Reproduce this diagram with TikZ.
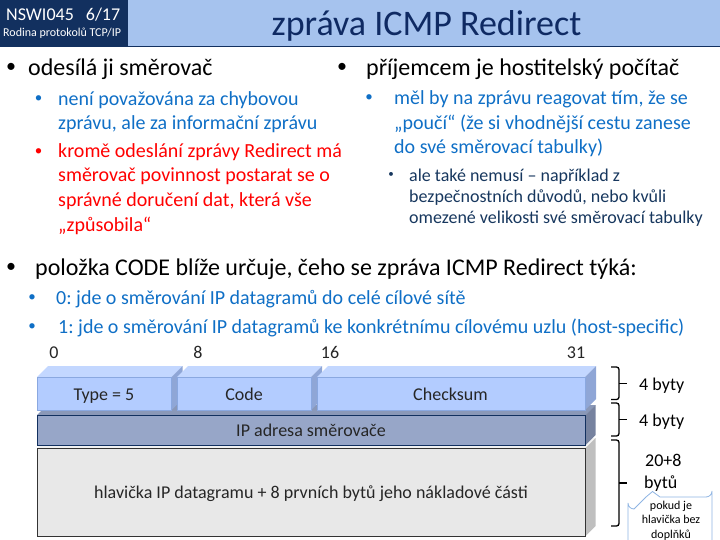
\documentclass[tikz,border=0pt]{standalone}
\usepackage{fontspec}
\setmainfont{Carlito}
\usetikzlibrary{calc}

\definecolor{navy}{HTML}{12305F}
\definecolor{barblue}{HTML}{A6C3EE}
\definecolor{textblue}{HTML}{0F6FC6}
\definecolor{titleblue}{HTML}{0F2A63}
\definecolor{subblue}{HTML}{17375E}
\definecolor{callblue}{HTML}{8EB4E3}
\definecolor{fieldfront}{HTML}{B3CCFF}
\definecolor{fieldtop}{HTML}{C3D7FF}
\definecolor{fieldside}{HTML}{8FA6D6}
\definecolor{fieldline}{HTML}{8AA8E0}
\definecolor{addrfront}{HTML}{97A6C8}
\definecolor{addrtop}{HTML}{8A98B8}
\definecolor{addrside}{HTML}{76829F}
\definecolor{hdrfront}{HTML}{E8E8E8}
\definecolor{hdrtop}{HTML}{F2F2F2}
\definecolor{hdrside}{HTML}{BFBFBF}

\tikzset{
	txt/.style={anchor=base west,inner sep=0pt,align=left},
	dotbig/.style={anchor=base,inner sep=0pt,font=\fontsize{20}{24}\selectfont},
	dotmid/.style={anchor=base,inner sep=0pt,font=\fontsize{15}{18}\selectfont},
	dotsmall/.style={anchor=base,inner sep=0pt,font=\fontsize{11}{13}\selectfont},
	big/.style={font=\fontsize{24}{29}\selectfont},
	mid/.style={font=\fontsize{20}{24.5}\selectfont},
	small/.style={font=\fontsize{18}{21.5}\selectfont},
	lab/.style={font=\fontsize{18}{21}\selectfont,text=black!85,inner sep=0pt,anchor=base},
	bracket/.style={draw=black,line width=1.3pt,rounded corners=2.5pt}
}

% one brick: left, top, right, bottom, depth, front, top, side, border
\newcommand{\brick}[9]{
	\fill[#7] (#1,#2) -- ({#1+#5},{#2-#5}) -- ({#3+#5},{#2-#5}) -- (#3,#2) -- cycle;
	\fill[#8] (#3,#2) -- ({#3+#5},{#2-#5}) -- ({#3+#5},{#4-#5}) -- (#3,#4) -- cycle;
	\fill[#6] (#1,#2) rectangle (#3,#4);
	\draw[#9,line width=0.8pt] (#1,#2) rectangle (#3,#4);
}

% square curly bracket between two named coordinates
\newcommand{\bracketfrom}[2]{
	\draw[bracket] (#1) -| ($(#1)!.5!(#2)+(8,0)$) |- (#2);
	\draw[bracket] ($(#1)!.5!(#2)+(8,0)$) -- ++(8,0);
}

\begin{document}
\frenchspacing
\begin{tikzpicture}[x=1pt,y=-1pt]
	\useasboundingbox (0,0) rectangle (720,540);
	\clip (0,0) rectangle (720,540);

	% Header
	\fill[barblue] (0,0) rectangle (720,46);
	\fill[navy] (0,0) rectangle (128,46);
	\draw[navy,line width=0.8pt] (0,46) -- (720,46);
	\node[txt,text=white,font=\fontsize{18}{21}\selectfont] (course) at (6,21) {NSWI045\hspace{12pt}6/17};
	\node[txt,text=white,font=\fontsize{12}{14}\selectfont] (family) at (3,37) {Rodina protokolů TCP/IP};
	\node[anchor=base,inner sep=0pt,text=titleblue,font=\fontsize{36}{40}\selectfont] (title) at (426.5,36) {zpráva ICMP Redirect};

	% Left column
	\node[dotbig] (d1) at (11,73) {•};
	\node[txt,big] (sender) at (28,76) {odesílá ji směrovač};
	\node[dotmid,text=textblue] (d2) at (38.5,103) {•};
	\node[txt,mid,text=textblue] (info) at (58,130) {není považována za chybovou\\zprávu, ale za informační zprávu};
	\node[dotmid,text=red] (d3) at (38.5,155.5) {•};
	\node[txt,mid,text=red] (duty) at (58,231) {kromě odeslání zprávy Redirect má\\směrovač povinnost postarat se o\\správné doručení dat, která vše\\„způsobila“};

	% Right column
	\node[dotbig] (d4) at (342,73) {•};
	\node[txt,big] (receiver) at (366,76) {příjemcem je hostitelský počítač};
	\node[dotmid,text=textblue] (d5) at (369,102) {•};
	\node[txt,mid,text=textblue] (learn) at (394,154) {měl by na zprávu reagovat tím, že se\\„poučí“ (že si vhodnější cestu zanese\\do své směrovací tabulky)};
	\node[dotsmall,text=subblue] (d6) at (391,177.5) {•};
	\node[txt,small,text=subblue] (notneed) at (409,224) {ale také nemusí – například z\\bezpečnostních důvodů, nebo kvůli\\omezené velikosti své směrovací tabulky};

	% Code field
	\node[dotbig] (d7) at (11,272) {•};
	\node[txt,big] (code) at (35,275) {položka CODE blíže určuje, čeho se zpráva ICMP Redirect týká:};
	\node[dotmid,text=textblue] (d8) at (32,301.5) {•};
	\node[txt,mid,text=textblue] (code0) at (56,304) {0: jde o směrování IP datagramů do celé cílové sítě};
	\node[dotmid,text=textblue] (d9) at (32,330) {•};
	\node[txt,mid,text=textblue] (code1) at (58,333) {1: jde o směrování IP datagramů ke konkrétnímu cílovému uzlu (host-specific)};

	% Bit numbers
	\node[lab] (b0) at (54,358) {0};
	\node[lab] (b8) at (198,358) {8};
	\node[lab] (b16) at (330,358) {16};
	\node[lab] (b31) at (576,358) {31};

	% Bricks, back to front
	\brick{37}{448}{585.5}{536}{10}{hdrfront}{hdrtop}{hdrside}{black!80}
	\brick{37}{415}{585.5}{445}{10}{addrfront}{addrtop}{addrside}{navy}
	\brick{37}{377}{171.5}{410}{11}{fieldfront}{fieldtop}{fieldside}{fieldline}
	\brick{177}{377}{311}{410}{11}{fieldfront}{fieldtop}{fieldside}{fieldline}
	\brick{317}{377}{585}{410}{11}{fieldfront}{fieldtop}{fieldside}{fieldline}
	\node[lab] (type) at (104,400) {Type = 5};
	\node[lab] (field) at (244,400) {Code};
	\node[lab] (sum) at (450.5,400) {Checksum};
	\node[lab] (gw) at (311,436) {IP adresa směrovače};
	\node[lab] (hdr) at (311,498) {hlavička IP datagramu + 8 prvních bytů jeho nákladové části};

	% Braces
	\coordinate (a1) at (611,367);
	\coordinate (a2) at (611,399.5);
	\coordinate (a3) at (611,403);
	\coordinate (a4) at (611,436);
	\coordinate (a5) at (611,440);
	\coordinate (a6) at (611,526);
	\bracketfrom{a1}{a2}
	\bracketfrom{a3}{a4}
	\bracketfrom{a5}{a6}
	\node[txt,small] (size1) at (639,390) {4 byty};
	\node[txt,small] (size2) at (639,426) {4 byty};
	\node[txt,small] (size3) at (644,488) {\hspace{1pt}20+8\\bytů};

	% Callout
	\draw[callblue,line width=0.8pt,fill=white] (628,550) -- (628,503) arc (180:90:6) -- (646,497) -- (652.5,491.5) -- (660,497) -- (706,497) arc (90:0:6) -- (712,550);
	\node[anchor=base,inner sep=0pt,align=center,font=\fontsize{12}{14.5}\selectfont] (note) at (671,538) {pokud je\\hlavička bez\\doplňků};
\end{tikzpicture}
\end{document}
